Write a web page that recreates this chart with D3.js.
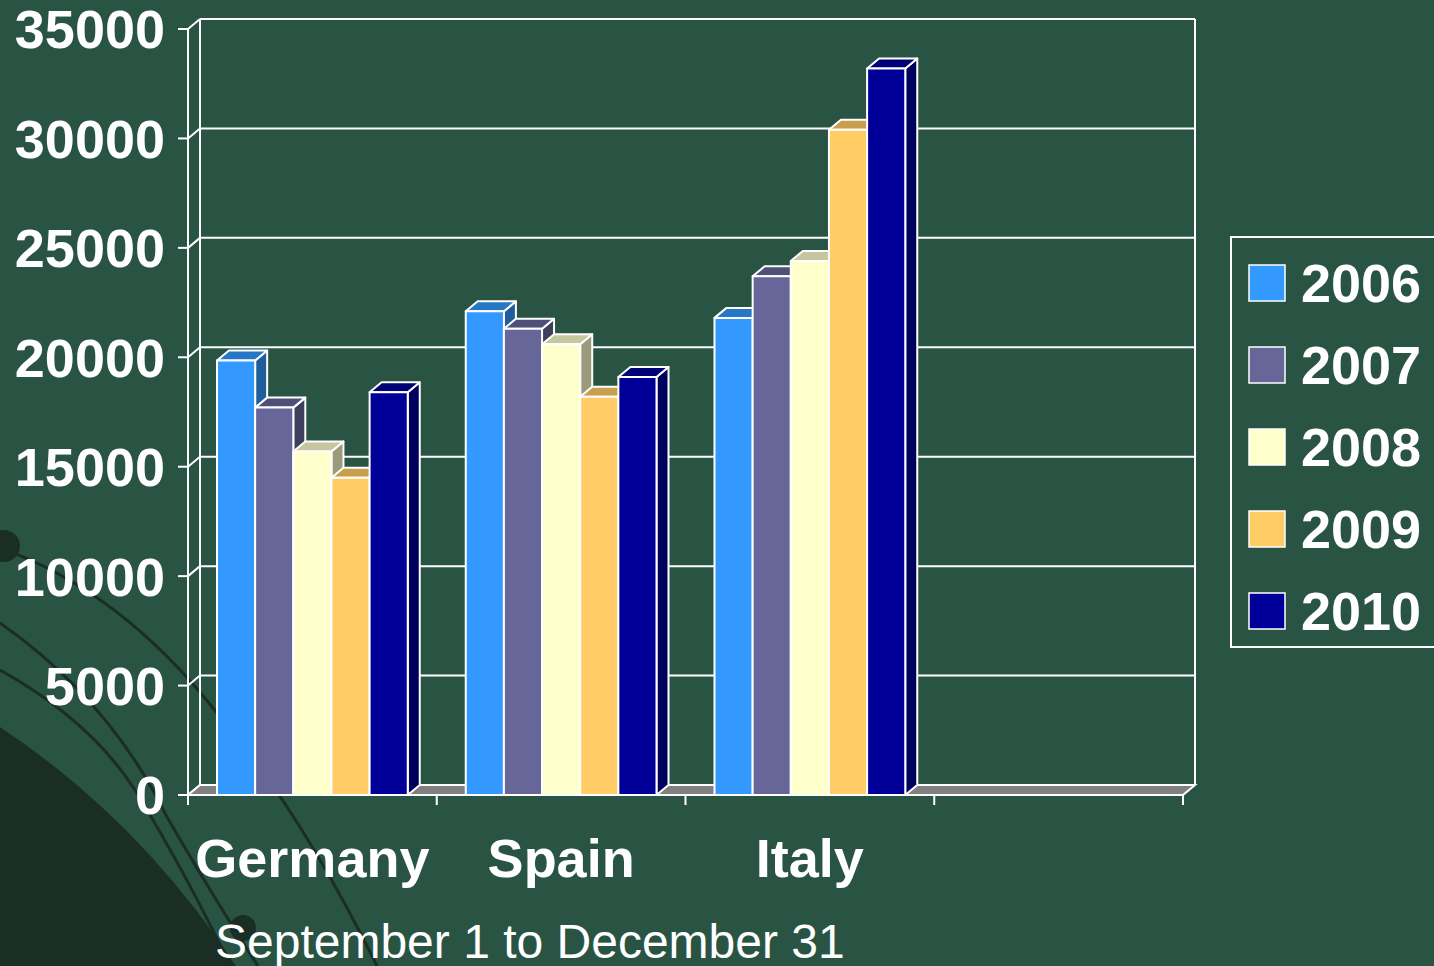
<!DOCTYPE html>
<html lang="en">
<head>
  <meta charset="UTF-8">
  <title>September 1 to December 31</title>
  <style>
    body { margin:0; background:#295444; overflow:hidden; }
    #chart { display:block; }
    text { font-family:"Liberation Sans", Arial, sans-serif; fill:#fff; }
  </style>
</head>
<body>
  <svg id="chart" width="1434" height="966"></svg>
  <script src="https://d3js.org/d3.v7.min.js"></script>
  <script>
    const categories = ['Germany', 'Spain', 'Italy'];
    const years = ['2006', '2007', '2008', '2009', '2010'];
    const values = {
      '2006': [19850, 22100, 21800],
      '2007': [17700, 21300, 23700],
      '2008': [15700, 20600, 24400],
      '2009': [14500, 18200, 30400],
      '2010': [18400, 19100, 33200]
    };
    const yTicks = [0, 5000, 10000, 15000, 20000, 25000, 30000, 35000];
    const subtitle = 'September 1 to December 31';

    const colors = { '2006':'#3399ff', '2007':'#666699', '2008':'#ffffcc', '2009':'#ffcc66', '2010':'#000099' };

    const svg = d3.select('#chart');
    const W = 1434, H = 966;
    const pL = 188, pR = 1183, pT = 29, pB = 795;
    const dx = 12, dy = -10; // depth offset

    svg.append('rect').attr('width', W).attr('height', H).attr('fill', '#295444');

    // background decoration, lower left
    const deco = svg.append('g');
    deco.append('path').attr('d', 'M0,727 Q140,820 236,966 L0,966 Z').attr('fill', '#1a2e26');
    deco.append('path').attr('d', 'M0,548 Q120,590 217,713 Q300,810 377,966')
      .attr('fill', 'none').attr('stroke', '#1a2e26').attr('stroke-width', 3);
    deco.append('path').attr('d', 'M0,623 Q110,700 167,817 Q215,900 258,966')
      .attr('fill', 'none').attr('stroke', '#1a2e26').attr('stroke-width', 3);
    deco.append('path').attr('d', 'M0,670 Q90,720 135,790 Q190,880 230,966')
      .attr('fill', 'none').attr('stroke', '#1a2e26').attr('stroke-width', 3);
    deco.append('circle').attr('cx', 4).attr('cy', 546).attr('r', 16).attr('fill', '#1a2e26');
    deco.append('circle').attr('cx', 243).attr('cy', 928).attr('r', 13).attr('fill', '#1a2e26');

    const x0 = d3.scaleBand().domain([...categories, '']).range([pL, pR]).padding(0);
    const x1 = d3.scaleBand().domain(years).range([0, x0.bandwidth()]).paddingInner(0).paddingOuter(0.76);
    const y = d3.scaleLinear().domain([0, 35000]).range([pB, pT]);

    const g = svg.append('g');
    const line = (ax, ay, bx, by) => g.append('line')
      .attr('x1', ax).attr('y1', ay).attr('x2', bx).attr('y2', by)
      .attr('stroke', '#fff').attr('stroke-width', 2);

    // back wall gridlines + side wall diagonals + ticks
    yTicks.forEach(t => {
      const yy = y(t);
      if (t > 0) line(pL + dx, yy + dy, pR + dx, yy + dy);
      line(pL, yy, pL + dx, yy + dy);
      line(pL - 10, yy, pL, yy);
    });
    // walls
    line(pL + dx, y(35000) + dy, pL + dx, pB + dy);
    line(pR + dx, y(35000) + dy, pR + dx, pB + dy);
    line(pL, y(35000), pL, pB);

    // floor
    g.append('path')
      .attr('d', `M${pL},${pB} L${pR},${pB} L${pR + dx},${pB + dy} L${pL + dx},${pB + dy} Z`)
      .attr('fill', '#808080').attr('stroke', '#fff').attr('stroke-width', 2);

    // x ticks
    [...x0.domain().map(c => x0(c)), pR].forEach(xx => line(xx, pB, xx, pB + 10));

    // bars
    const shade = (c, k) => d3.color(c).darker(k).formatHex();
    const bars = g.append('g').attr('stroke', '#fff').attr('stroke-width', 2).attr('stroke-linejoin', 'round');
    categories.forEach((cat, ci) => {
      years.forEach(yr => {
        const v = values[yr][ci];
        const bx = x0(cat) + x1(yr), bw = x1.bandwidth(), by = y(v);
        const c = colors[yr];
        bars.append('path')
          .attr('d', `M${bx + bw},${by} L${bx + bw + dx},${by + dy} L${bx + bw + dx},${pB + dy} L${bx + bw},${pB} Z`)
          .attr('fill', shade(c, 1.4));
        bars.append('path')
          .attr('d', `M${bx},${by} L${bx + dx},${by + dy} L${bx + bw + dx},${by + dy} L${bx + bw},${by} Z`)
          .attr('fill', shade(c, 0.7));
        bars.append('rect').attr('x', bx).attr('y', by).attr('width', bw).attr('height', pB - by).attr('fill', c);
      });
    });

    // y tick labels
    svg.append('g').selectAll('text').data(yTicks).join('text')
      .attr('x', 165).attr('y', d => y(d)).attr('dy', '0.36em')
      .attr('text-anchor', 'end').attr('font-size', 54).attr('font-weight', 'bold')
      .text(d => d);

    // category labels
    svg.append('g').selectAll('text').data(categories).join('text')
      .attr('x', d => x0(d) + x0.bandwidth() / 2).attr('y', 877)
      .attr('text-anchor', 'middle').attr('font-size', 54).attr('font-weight', 'bold')
      .text(d => d);

    svg.append('text').attr('x', 215).attr('y', 958).attr('font-size', 48).text(subtitle);

    // legend
    const lg = svg.append('g');
    lg.append('rect').attr('x', 1231).attr('y', 237).attr('width', 230).attr('height', 410)
      .attr('fill', 'none').attr('stroke', '#fff').attr('stroke-width', 2);
    const ly = d3.scalePoint().domain(years).range([283, 611]);
    years.forEach(yr => {
      lg.append('rect').attr('x', 1249).attr('y', ly(yr) - 18).attr('width', 36).attr('height', 36)
        .attr('fill', colors[yr]).attr('stroke', '#fff').attr('stroke-width', 1.5);
      lg.append('text').attr('x', 1301).attr('y', ly(yr)).attr('dy', '0.36em')
        .attr('font-size', 54).attr('font-weight', 'bold').text(yr);
    });
  </script>
</body>
</html>
